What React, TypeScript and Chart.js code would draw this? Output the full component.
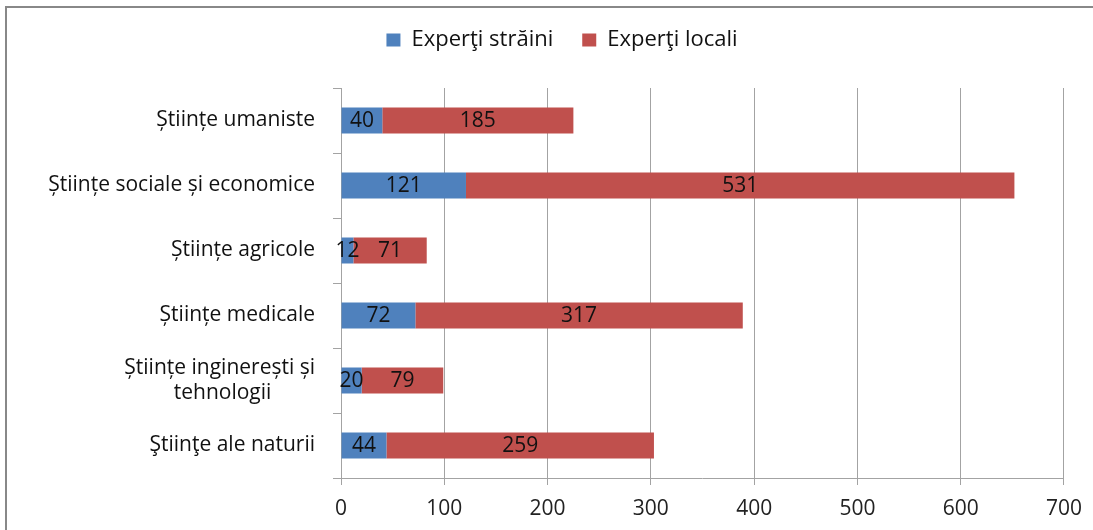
import { useEffect, useRef } from 'react';
import { Chart, registerables } from 'chart.js';
import type { Plugin } from 'chart.js';

Chart.register(...registerables);

const categories: Array<string | string[]> = [
	'Științe umaniste',
	'Științe sociale și economice',
	'Științe agricole',
	'Științe medicale',
	// trailing spaces centre the second line under the first
	['Științe inginerești și', 'tehnologii\u00a0\u00a0\u00a0\u00a0\u00a0\u00a0\u00a0\u00a0'],
	'Ştiinţe ale naturii',
];
const foreignExperts = [40, 121, 12, 72, 20, 44];
const localExperts = [185, 531, 71, 317, 79, 259];
const xTicks = [0, 100, 200, 300, 400, 500, 600, 700];

const FONT = '"Open Sans", "Noto Sans", sans-serif';

// writes each value in the middle of its bar segment
const segmentLabels: Plugin<'bar'> = {
	id: 'segmentLabels',
	afterDatasetsDraw(chart) {
		const ctx = chart.ctx;
		ctx.save();
		ctx.font = `21px ${FONT}`;
		ctx.fillStyle = '#111';
		ctx.textAlign = 'center';
		ctx.textBaseline = 'middle';
		chart.data.datasets.forEach((ds, i) => {
			const meta = chart.getDatasetMeta(i);
			meta.data.forEach((bar, j) => {
				const p = bar.getProps(['x', 'y', 'base'], true) as {
					x: number;
					y: number;
					base: number;
				};
				ctx.fillText(String(ds.data[j]), (p.x + p.base) / 2, p.y + 1);
			});
		});
		ctx.restore();
	},
};

// fixes the legend band height so the plot starts where the original does,
// and nudges the centred legend a little to the right
const legendBand: Plugin<'bar'> = {
	id: 'legendBand',
	beforeInit(chart) {
		const legend = chart.legend as any;
		if (!legend) return;
		const fit = legend.fit;
		legend.fit = function () {
			fit.call(this);
			this.height = 88;
		};
	},
	afterLayout(chart) {
		const legend = chart.legend as any;
		if (!legend) return;
		legend.left += 28;
		legend.right += 28;
	},
};

function App() {
	const canvasRef = useRef<HTMLCanvasElement | null>(null);

	useEffect(() => {
		document.body.style.margin = '0';
		if (!canvasRef.current) return undefined;

		const chart = new Chart(canvasRef.current, {
			type: 'bar',
			data: {
				labels: categories,
				datasets: [
					{
						label: 'Experţi străini',
						data: foreignExperts,
						backgroundColor: '#4f81bd',
						barPercentage: 0.4,
						categoryPercentage: 1,
					},
					{
						label: 'Experţi locali',
						data: localExperts,
						backgroundColor: '#c0504d',
						barPercentage: 0.4,
						categoryPercentage: 1,
					},
				],
			},
			options: {
				indexAxis: 'y',
				animation: false,
				responsive: false,
				layout: {
					padding: { top: 0, right: 25, bottom: 0, left: 0 },
				},
				plugins: {
					legend: {
						position: 'top',
						labels: {
							boxWidth: 14,
							boxHeight: 13,
							padding: 29,
							color: '#111',
							font: { family: FONT, size: 22 },
						},
					},
					tooltip: { enabled: false },
				},
				scales: {
					x: {
						stacked: true,
						min: 0,
						max: 700,
						afterBuildTicks(scale) {
							scale.ticks = xTicks.map((v) => ({ value: v }));
						},
						afterFit(scale) {
							scale.height = 52;
						},
						ticks: {
							color: '#222',
							padding: 11,
							font: { family: FONT, size: 21 },
						},
						grid: {
							color: '#a3a3a3',
							tickLength: 7,
						},
						border: { color: '#a3a3a3' },
					},
					y: {
						stacked: true,
						afterFit(scale) {
							scale.width = 341;
						},
						ticks: {
							color: '#111',
							padding: 18,
							font: { family: FONT, size: 21, lineHeight: 1.22 },
						},
						grid: {
							offset: true,
							drawOnChartArea: false,
							color: '#a3a3a3',
							tickLength: 8,
						},
						border: { color: '#a3a3a3' },
					},
				},
			},
			plugins: [segmentLabels, legendBand],
		});

		return () => {
			chart.destroy();
		};
	}, []);

	return (
		<div style={{ position: 'relative', width: 1093, height: 530, background: '#fff', overflow: 'hidden' }}>
			<div
				style={{
					position: 'absolute',
					left: 5,
					top: 6,
					width: 1200,
					height: 700,
					border: '2px solid #888',
				}}
			/>
			<canvas
				ref={canvasRef}
				width={1093}
				height={530}
				style={{ position: 'absolute', left: 0, top: 0 }}
			/>
		</div>
	);
}

export default App;
